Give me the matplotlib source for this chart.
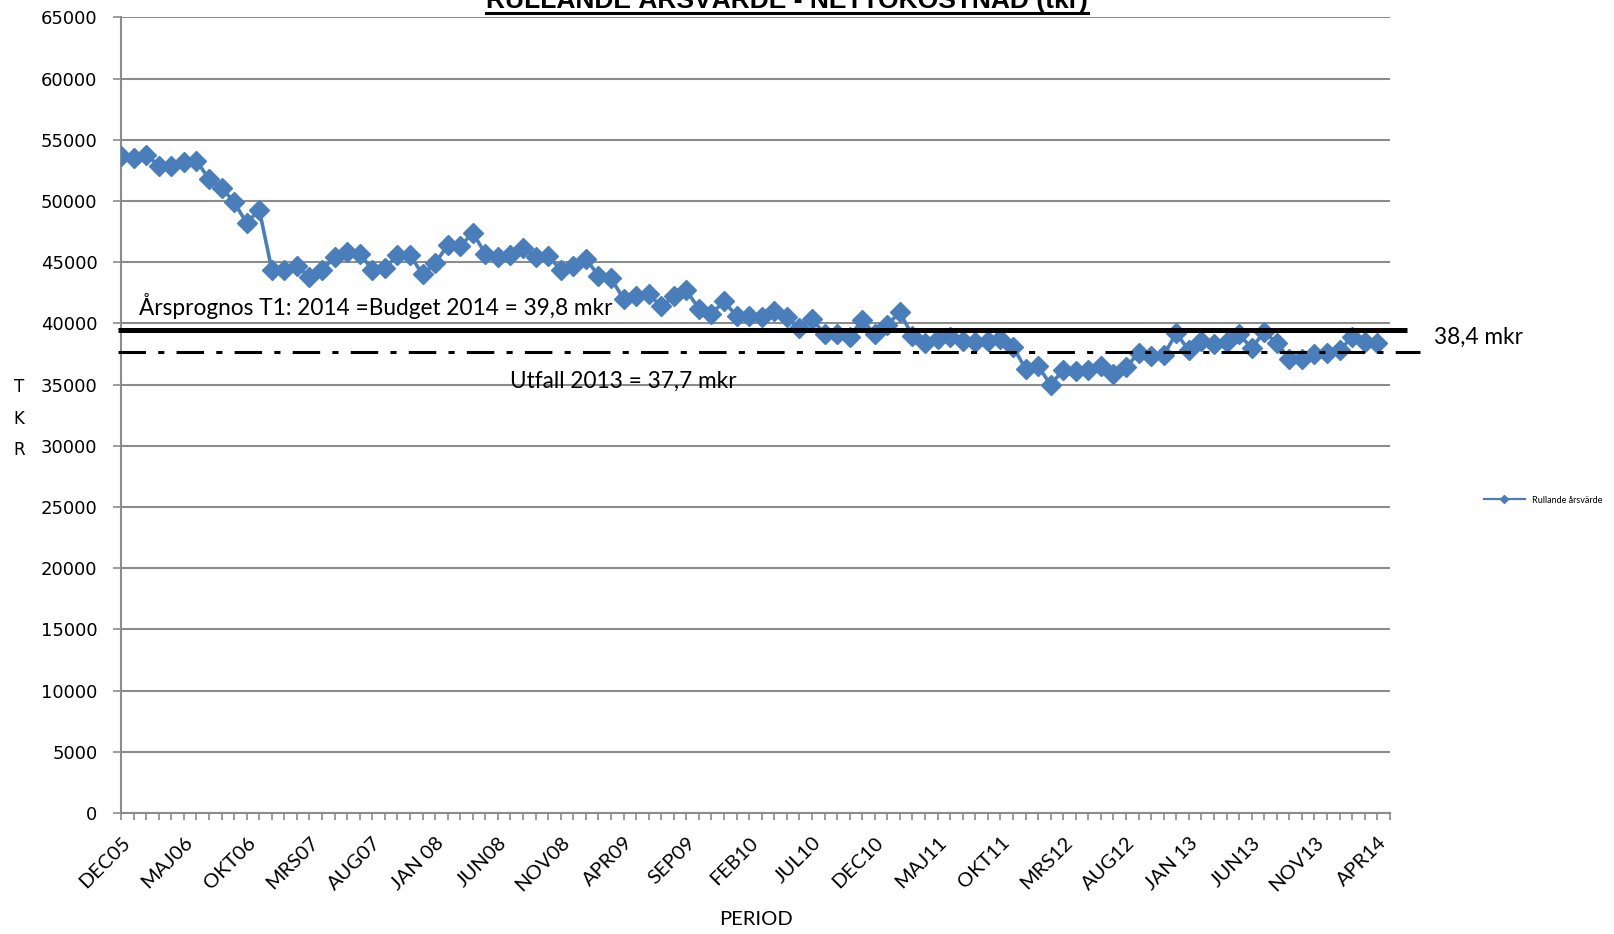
import matplotlib
matplotlib.use("Agg")
import matplotlib.pyplot as plt
from matplotlib.lines import Line2D

# Rullande årsvärde (tkr), en punkt per månad DEC05 -> APR14
values = [
    53700, 53500, 53800, 52900, 52900, 53200, 53300, 51800, 51100, 49900,
    48200, 49300, 44400, 44400, 44700, 43800, 44400, 45400, 45800, 45700,
    44400, 44500, 45600, 45600, 44000, 44900, 46400, 46300, 47400, 45700,
    45400, 45600, 46200, 45400, 45500, 44400, 44700, 45300, 43900, 43700,
    42000, 42200, 42400, 41400, 42200, 42700, 41200, 40800, 41800, 40600,
    40600, 40500, 41000, 40500, 39600, 40400, 39100, 39100, 38900, 40300,
    39100, 39900, 40900, 39000, 38400, 38700, 38900, 38600, 38500, 38600,
    38700, 38100, 36300, 36500, 35000, 36200, 36100, 36200, 36500, 35900,
    36400, 37600, 37300, 37400, 39200, 37800, 38600, 38300, 38500, 39100,
    38000, 39300, 38400, 37100, 37100, 37500, 37600, 37800, 38900, 38500,
    38400,
]
tick_labels = ["DEC05", "MAJ06", "OKT06", "MRS07", "AUG07", "JAN 08", "JUN08",
               "NOV08", "APR09", "SEP09", "FEB10", "JUL10", "DEC10", "MAJ11",
               "OKT11", "MRS12", "AUG12", "JAN 13", "JUN13", "NOV13", "APR14"]
budget_level = 39500   # drawn line (prognos/budget)
utfall_level = 37700   # utfall 2013

x = list(range(len(values)))
blue = "#4A7EBB"
grid_c = "#8C8C8C"

fig = plt.figure(figsize=(16.14, 9.34), dpi=100)
ax = fig.add_axes([0.0750, 0.1296, 0.7861, 0.8517])

ax.plot(x, values, color=blue, lw=2.6, marker="D", markersize=10.5,
        label="Rullande årsvärde", zorder=3)

# referenslinjer (ritade former i originalet, sticker ut till höger)
ax.plot([-0.25, 102.4], [budget_level] * 2, color="black", lw=3.6,
        clip_on=False, zorder=4, solid_capstyle="butt")
ax.plot([-0.25, 103.4], [utfall_level] * 2, color="black", lw=2.2,
        dashes=(9, 4, 2, 4), clip_on=False, zorder=4)

ax.set_xlim(0, len(values))
ax.set_ylim(0, 65000)
ax.set_yticks(range(0, 65001, 5000))
ax.set_yticklabels([str(v) for v in range(0, 65001, 5000)],
                   family="DejaVu Sans", fontsize=13)
ax.set_xticks(range(0, len(values), 5))
ax.set_xticklabels(tick_labels, rotation=45, ha="right", rotation_mode="anchor",
                   family="Lato", fontsize=14.5)
ax.set_xticks(range(0, len(values) + 1), minor=True)
ax.tick_params(axis="x", which="both", length=5, color=grid_c, width=1.2, pad=10)
ax.tick_params(axis="y", length=6, color=grid_c, width=1.2, pad=11)

ax.grid(axis="y", color=grid_c, lw=1.5)
ax.set_axisbelow(True)
for side in ["top", "right"]:
    ax.spines[side].set_visible(False)
for side in ["left", "bottom"]:
    ax.spines[side].set_color(grid_c)
    ax.spines[side].set_linewidth(1.5)

# texter
ax.text(1.4, 40650, "Årsprognos T1: 2014 =Budget 2014 = 39,8 mkr",
        family="Lato", fontsize=16.3, va="baseline")
ax.text(31.0, 34750, "Utfall 2013 = 37,7 mkr", family="Lato", fontsize=16.3,
        va="baseline")
ax.text(104.5, 38300, "38,4 mkr", family="Lato", fontsize=16.3, va="baseline",
        clip_on=False)

fig.text(0.4685, 0.016, "PERIOD", family="Lato", fontsize=14.5, ha="center",
         va="center")
for i, ch in enumerate("TKR"):
    fig.text(0.0118, 0.580 - i * 0.0335, ch, family="DejaVu Sans",
             fontsize=12, ha="center")

# titel, delvis utanför bilden
title = fig.text(0.4878, 0.9915, "RULLANDE ÅRSVÄRDE - NETTOKOSTNAD (tkr)",
                 family="Liberation Sans", weight="bold", fontsize=19,
                 ha="center", va="baseline")
fig.canvas.draw()
bb = title.get_window_extent().transformed(fig.transFigure.inverted())
fig.add_artist(Line2D([bb.x0, bb.x1], [0.9866, 0.9866], color="black",
                      lw=2.2, transform=fig.transFigure))

leg = ax.legend(loc="center left", bbox_to_anchor=(0.9145, 0.4645),
                bbox_transform=fig.transFigure, frameon=False,
                prop={"family": "Lato", "size": 6.5},
                handlelength=4.5, markerscale=0.4)
for h in leg.legend_handles:
    h.set_linewidth(1.6)

fig.savefig("out.png", dpi=100)
